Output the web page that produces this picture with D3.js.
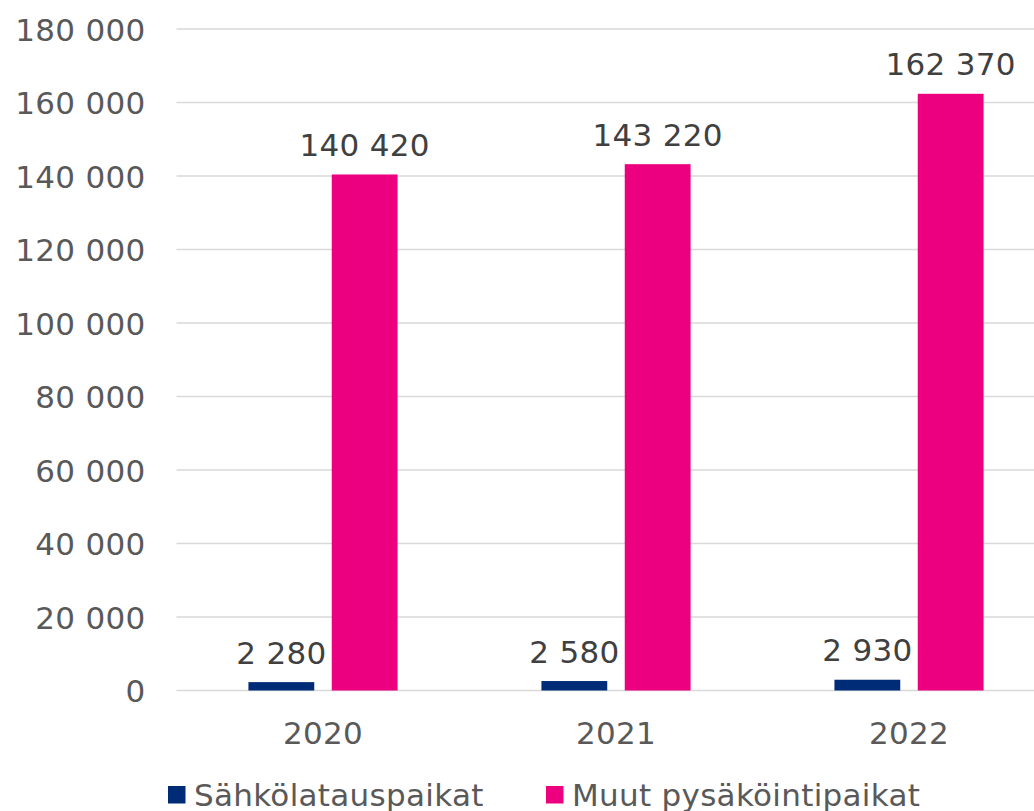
<!DOCTYPE html>
<html>
<head>
<meta charset="utf-8">
<script src="https://cdn.jsdelivr.net/npm/d3@7"></script>
<style>
  body { margin: 0; background: #fff; }
  svg { display: block; font-family: "DejaVu Sans", Verdana, sans-serif; }
  svg text { letter-spacing: 0.3px; }
</style>
</head>
<body>
<div id="vis"></div>
<script>
// data
const YEARS = ["2020", "2021", "2022"];
const SERIES = ["Sähkölatauspaikat", "Muut pysäköintipaikat"];
const CHARGING = [2280, 2580, 2930];
const OTHER = [140420, 143220, 162370];
const Y_TICKS = [0, 20000, 40000, 60000, 80000, 100000, 120000, 140000, 160000, 180000];
const COLORS = ["#002C77", "#EC0080"];

const FRAME_WIDTH = 1034;
const FRAME_HEIGHT = 811;
const PLOT = {left: 176.5, right: 1055.5, top: 29, bottom: 690.5};

const fmt = (v) => d3.format(",")(v).replace(/,/g, " ");

const svg = d3.select("#vis")
  .append("svg")
    .attr("width", FRAME_WIDTH)
    .attr("height", FRAME_HEIGHT);

const yScale = d3.scaleLinear()
  .domain([0, 180000])
  .range([PLOT.bottom, PLOT.top]);

const x0 = d3.scaleBand()
  .domain(YEARS)
  .range([PLOT.left, PLOT.right])
  .paddingInner(0.491)
  .paddingOuter(0.2455);

const x1 = d3.scaleBand()
  .domain(SERIES)
  .range([0, x0.bandwidth()])
  .paddingInner(0.21);

// gridlines
svg.append("g")
  .selectAll("line")
  .data(Y_TICKS)
  .enter().append("line")
    .attr("x1", PLOT.left)
    .attr("x2", PLOT.right)
    .attr("y1", d => yScale(d))
    .attr("y2", d => yScale(d))
    .attr("stroke", "#d9d9d9")
    .attr("stroke-width", 1.3);

// y axis labels
const yAxis = svg.append("g")
  .attr("transform", "translate(" + (PLOT.left - 31) + ",0)")
  .call(d3.axisLeft(yScale).tickValues(Y_TICKS).tickFormat(fmt).tickSize(0).tickPadding(0));
yAxis.select(".domain").remove();
yAxis.selectAll("text")
  .attr("font-size", "31px")
  .attr("font-family", "DejaVu Sans, Verdana, sans-serif")
  .attr("fill", "#595959")
  .attr("dy", "0.36em");

// x axis labels
const xAxis = svg.append("g")
  .attr("transform", "translate(0," + PLOT.bottom + ")")
  .call(d3.axisBottom(x0).tickSize(0).tickPadding(0));
xAxis.select(".domain").remove();
xAxis.selectAll("text")
  .attr("font-size", "31px")
  .attr("font-family", "DejaVu Sans, Verdana, sans-serif")
  .attr("fill", "#595959")
  .attr("dy", null)
  .attr("y", 53);

const rows = [];
YEARS.forEach((yr, i) => {
  rows.push({year: yr, series: SERIES[0], value: CHARGING[i], color: COLORS[0]});
  rows.push({year: yr, series: SERIES[1], value: OTHER[i], color: COLORS[1]});
});

// bars
svg.append("g")
  .selectAll("rect")
  .data(rows)
  .enter().append("rect")
    .attr("x", d => x0(d.year) + x1(d.series))
    .attr("y", d => yScale(d.value))
    .attr("width", x1.bandwidth())
    .attr("height", d => yScale(0) - yScale(d.value))
    .attr("fill", d => d.color);

// value labels
svg.append("g")
  .selectAll("text")
  .data(rows)
  .enter().append("text")
    .attr("x", d => x0(d.year) + x1(d.series) + x1.bandwidth() / 2)
    .attr("y", d => yScale(d.value) - 18.5)
    .attr("text-anchor", "middle")
    .attr("font-size", "31px")
    .attr("fill", "#404040")
    .text(d => fmt(d.value));

// legend
const LEGEND_X = [168, 546];
const legend = svg.append("g")
  .selectAll("g")
  .data(SERIES)
  .enter().append("g")
    .attr("transform", (d, i) => "translate(" + LEGEND_X[i] + ",786)");
legend.append("rect")
  .attr("width", 17.5)
  .attr("height", 17.5)
  .attr("fill", (d, i) => COLORS[i]);
legend.append("text")
  .attr("x", 26)
  .attr("y", 19.5)
  .attr("font-size", "31px")
  .attr("fill", "#595959")
  .text(d => d);
</script>
</body>
</html>
